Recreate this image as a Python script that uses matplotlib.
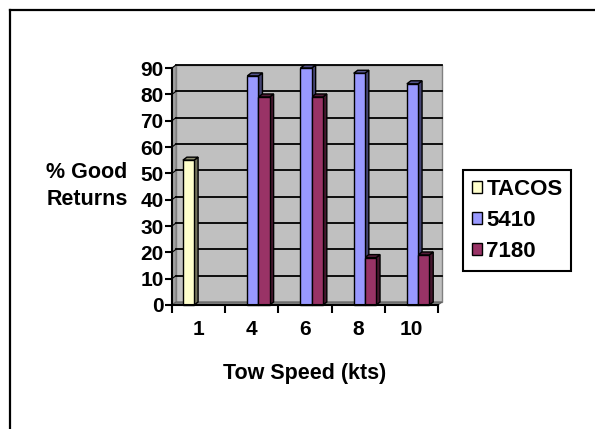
import numpy as np
import matplotlib
matplotlib.use("Agg")
import matplotlib.pyplot as plt
from matplotlib.patches import Polygon, Rectangle, Patch
from matplotlib.lines import Line2D

plt.rcParams['font.family'] = ['Liberation Sans', 'DejaVu Sans']
plt.rcParams['font.weight'] = 'bold'

# tow speed categories and % good returns per system
speeds = ['1', '4', '6', '8', '10']
series = ['TACOS', '5410', '7180']
tacos = [55, None, None, None, None]
s5410 = [None, 87, 90, 88, 84]
s7180 = [None, 79, 79, 18, 19]
colors = ['#FFFFCC', '#9999FF', '#993366']

W, H = 595, 429
fig = plt.figure(figsize=(W / 100, H / 100), dpi=100)
ax = fig.add_axes([172 / W, (H - 305) / H, 266 / W, 237 / H])
ax.set_xlim(0.5, 5.5)
ax.set_ylim(0, 90)

# depth of the pseudo-3D effect, in pixels -> data units
px_x = 266 / 5.0
px_y = 237 / 90.0
dx = 4 / px_x
dy = 3 / px_y

x0, x1 = 0.5, 5.5
# back wall, side wall and floor
ax.add_patch(Rectangle((x0 + dx, dy), x1 - x0, 90, facecolor='#C0C0C0',
                       edgecolor='#808080', lw=1, clip_on=False, zorder=0))
ax.add_patch(Polygon([(x0, 0), (x0 + dx, dy), (x0 + dx, 90 + dy), (x0, 90)],
                     closed=True, facecolor='#A0A0A0', edgecolor='#808080',
                     lw=0.8, clip_on=False, zorder=0.5))
ax.add_patch(Polygon([(x0, 0), (x1, 0), (x1 + dx, dy), (x0 + dx, dy)],
                     closed=True, facecolor='#808080', edgecolor='#606060',
                     lw=0.8, clip_on=False, zorder=0.5))
for g in range(10, 91, 10):
    ax.plot([x0 + dx, x1 + dx], [g + dy, g + dy], color='black', lw=1.3,
            clip_on=False, zorder=1)
    ax.plot([x0, x0 + dx], [g, g + dy], color='black', lw=0.8,
            clip_on=False, zorder=1)


def shade(c, f):
    rgb = np.array(matplotlib.colors.to_rgb(c))
    return tuple(rgb * f)


def bar3d(x, h, w, c):
    l, r = x - w / 2, x + w / 2
    ax.add_patch(Polygon([(r, 0), (r + dx, dy), (r + dx, h + dy), (r, h)],
                         closed=True, facecolor=shade(c, 0.45),
                         edgecolor='black', lw=1, clip_on=False, zorder=3))
    ax.add_patch(Polygon([(l, h), (r, h), (r + dx, h + dy), (l + dx, h + dy)],
                         closed=True, facecolor=shade(c, 0.55),
                         edgecolor='black', lw=1, clip_on=False, zorder=3))
    ax.add_patch(Rectangle((l, 0), w, h, facecolor=c, edgecolor='black',
                           lw=1, clip_on=False, zorder=4))


width = 0.21
offsets = [-0.19, 0.02, 0.23]
for k, vals in enumerate([tacos, s5410, s7180]):
    for i, v in enumerate(vals):
        if v is not None:
            bar3d(i + 1 + offsets[k], v, width, colors[k])

# axes lines and ticks
for side in ['top', 'right']:
    ax.spines[side].set_visible(False)
for side in ['left', 'bottom']:
    ax.spines[side].set_linewidth(1.5)
    ax.spines[side].set_zorder(5)
ax.patch.set_visible(False)

ax.set_yticks(range(0, 91, 10))
ax.tick_params(axis='y', length=5, width=1.5, labelsize=15, pad=1)
ax.set_xticks(np.arange(0.5, 5.6, 1.0))
ax.set_xticklabels([])
ax.set_xticks(np.arange(1, 6), minor=True)
ax.set_xticklabels(speeds, minor=True)
ax.tick_params(axis='x', which='major', length=6, width=1.5)
ax.tick_params(axis='x', which='minor', length=0, labelsize=15, pad=11)
for t in ax.get_xticklabels(minor=True) + ax.get_yticklabels():
    t.set_fontweight('bold')

ax.set_xlabel('Tow Speed (kts)', fontsize=15.5, fontweight='bold', labelpad=17)
fig.text(87 / W, 1 - 186 / H, '% Good\nReturns', ha='center', va='center',
         fontsize=15.5, fontweight='bold', linespacing=1.4)

handles = [Patch(facecolor=c, edgecolor='black', lw=1) for c in colors]
leg = fig.legend(handles, series, loc='upper left',
                 bbox_to_anchor=(463 / W, 1 - 170 / H), borderaxespad=0,
                 prop={'size': 16, 'weight': 'bold'}, fancybox=False,
                 edgecolor='black', framealpha=1, handlelength=0.45,
                 handleheight=0.45, handletextpad=0.2, labelspacing=0.45,
                 borderpad=0.4)
leg.get_frame().set_linewidth(1.5)

# outer chart border (only left and top edges fall inside the image)
fig.add_artist(Line2D([10 / W, 10 / W], [0, 1 - 10 / H], color='black',
                      lw=1.6, transform=fig.transFigure))
fig.add_artist(Line2D([10 / W, 1], [1 - 10 / H, 1 - 10 / H], color='black',
                      lw=1.6, transform=fig.transFigure))

fig.savefig('out.png', dpi=100)
